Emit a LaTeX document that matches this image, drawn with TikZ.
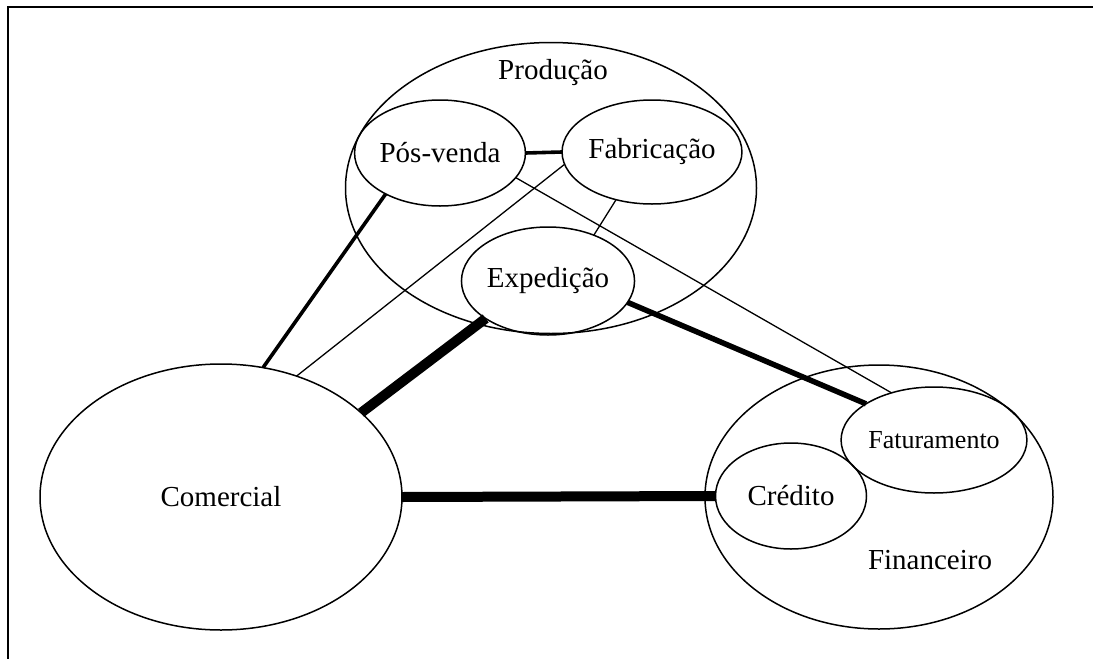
\documentclass[tikz,border=0pt]{standalone}
\usepackage{fontspec}
\setmainfont{Liberation Serif}
\usetikzlibrary{shapes.geometric}
\newcommand\areafont{\fontsize{29}{34}\selectfont}
\newcommand\smallareafont{\fontsize{26}{30}\selectfont}
\begin{document}
\begin{tikzpicture}[x=1pt,y=-1pt,
  every node/.style={font=\areafont},
  oval/.style={ellipse, draw, line width=1.5pt, inner sep=0pt, outer sep=0pt},
  thinlink/.style={line width=1.3pt},
  midlink/.style={line width=3.6pt},
  heavylink/.style={line width=5.5pt},
  boldlink/.style={line width=10pt},
  framerule/.style={line width=2pt}]
  \path[use as bounding box] (0,0) rectangle (1093,659);

  % partial frame: top and left rules
  \coordinate (frametr) at (1093,7);
  \coordinate (frametl) at (8,7);
  \coordinate (framebl) at (8,659);
  \draw[framerule] (frametr) -- (frametl) -- (framebl);

  % production area
  \node[oval, minimum width=411pt, minimum height=291pt] (prod) at (551,188) {};
  \node (prodlbl) at (553,73) {Produção};
  \node[oval, minimum width=151pt, minimum height=106pt] (pos) at (440,153) {Pós-venda};
  \node[oval, minimum width=150pt, minimum height=104pt] (fab) at (652,152) {Fabricação};
  \node[oval, minimum width=150pt, minimum height=108pt] (exp) at (548,281) {Expedição};

  % commercial area
  \node[oval, minimum width=362pt, minimum height=266pt] (com) at (221,497) {Comercial};

  % financial area
  \node[oval, minimum width=348pt, minimum height=264pt] (fin) at (879,497) {};
  \node (finlbl) at (930,560) {Financeiro};
  \node[oval, minimum width=151pt, minimum height=106pt, font=\smallareafont] (fat) at (934,440) {Faturamento};
  \node[oval, minimum width=151pt, minimum height=106pt] (cred) at (791,496) {Crédito};

  % links
  \draw[midlink] (pos.east) -- (fab.west);
  \draw[midlink] (pos.217) -- (com.72.6);
  \draw[thinlink] (fab.188) -- (com.58);
  \draw[thinlink] (fab.233) -- (exp.45.7);
  \draw[thinlink] (pos.342) -- (fat.132);
  \draw[heavylink] (exp.345.6) -- (fat.152.7);
  \draw[boldlink] (exp.211.7) -- (com.31.1);
  \draw[boldlink] (com.east) -- (cred.west);
\end{tikzpicture}
\end{document}
